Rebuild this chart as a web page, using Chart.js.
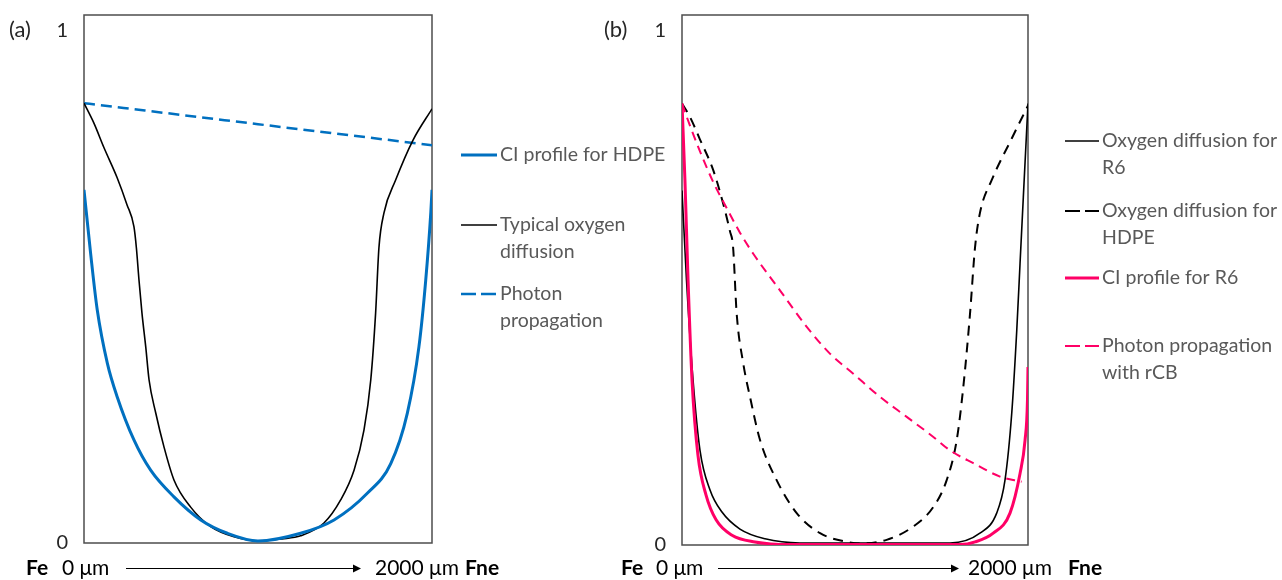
<!DOCTYPE html>
<html>
<head>
<meta charset="utf-8">
<script src="https://cdn.jsdelivr.net/npm/chart.js@4.4.1/dist/chart.umd.min.js"></script>
<style>
  body { margin: 0; background: #fff; }
  #wrap { position: relative; width: 1282px; height: 580px; }
  canvas { position: absolute; top: 0; }
  #chartA { left: 0; }
  #chartB { left: 600px; }
</style>
</head>
<body>
<div id="wrap">
  <canvas id="chartA" width="680" height="580"></canvas>
  <canvas id="chartB" width="682" height="580"></canvas>
</div>
<script>
// depth from the exposed face (µm) and relative values

// (a) HDPE
const ciHdpeX = [0, 38, 76, 134, 191, 287, 383, 517, 671, 824, 1000, 1245, 1437, 1628, 1763, 1858, 1925, 1964, 1993, 2000];
const ciHdpeY = [0.689, 0.565, 0.455, 0.351, 0.285, 0.201, 0.142, 0.090, 0.045, 0.019, 0.004, 0.019, 0.045, 0.097, 0.155, 0.253, 0.383, 0.513, 0.644, 0.689];

const oxyTypX = [0, 57, 115, 190, 247, 287, 301, 316, 333, 355, 374, 412, 460, 517, 613, 728, 862, 1000, 1138, 1245, 1379, 1475, 1552, 1609, 1648, 1676, 1695, 1724, 1791, 1891, 2000];
const oxyTypY = [0.858, 0.819, 0.771, 0.713, 0.660, 0.617, 0.576, 0.513, 0.449, 0.382, 0.318, 0.254, 0.187, 0.123, 0.070, 0.032, 0.012, 0.004, 0.008, 0.014, 0.039, 0.084, 0.142, 0.220, 0.318, 0.449, 0.576, 0.644, 0.708, 0.786, 0.847];

const photonX = [0, 1000, 2000];
const photonY = [0.858, 0.817, 0.776];

// (b) R6 vs HDPE
const oxyR6X = [0, 26, 64, 104, 162, 231, 335, 480, 682, 1549, 1722, 1819, 1867, 1906, 1935, 1954, 1973, 2000];
const oxyR6Y = [0.689, 0.515, 0.320, 0.184, 0.107, 0.064, 0.031, 0.012, 0.004, 0.004, 0.023, 0.062, 0.126, 0.256, 0.417, 0.547, 0.676, 0.858];

const oxyHdpeX = [0, 46, 104, 181, 239, 277, 295, 316, 354, 393, 451, 547, 663, 798, 952, 1029, 1183, 1337, 1453, 1530, 1588, 1626, 1665, 1694, 1722, 1790, 1906, 2000];
const oxyHdpeY = [0.858, 0.832, 0.788, 0.728, 0.662, 0.610, 0.580, 0.450, 0.353, 0.288, 0.204, 0.126, 0.062, 0.023, 0.006, 0.003, 0.010, 0.036, 0.074, 0.126, 0.204, 0.307, 0.450, 0.579, 0.645, 0.709, 0.790, 0.854];

const ciR6X = [0, 17, 35, 58, 92, 139, 197, 289, 422, 624, 1607, 1694, 1799, 1896, 1954, 1983, 1997, 2000];
const ciR6Y = [0.858, 0.709, 0.515, 0.320, 0.175, 0.097, 0.049, 0.019, 0.006, 0.001, 0.001, 0.006, 0.023, 0.062, 0.139, 0.204, 0.282, 0.346];

const photonCbX = [0, 46, 104, 181, 258, 335, 412, 566, 721, 855, 990, 1144, 1299, 1453, 1549, 1684, 1838, 1963];
const photonCbY = [0.858, 0.815, 0.765, 0.705, 0.655, 0.607, 0.566, 0.495, 0.424, 0.372, 0.333, 0.288, 0.249, 0.210, 0.184, 0.159, 0.133, 0.123];

// labels
const yTickValues = [0, 1];
const faceLabels = ["Fe", "Fne"];
const depthLabels = ["0 \u03bcm", "2000 \u03bcm"];
const legendA = [["CI profile for HDPE"], ["Typical oxygen", "diffusion"], ["Photon", "propagation"]];
const legendB = [["Oxygen diffusion for", "R6"], ["Oxygen diffusion for", "HDPE"], ["CI profile for R6"], ["Photon propagation", "with rCB"]];

const BLUE = "#0070C0";
const PINK = "#FF0066";
const FONT = "Lato, 'Open Sans', sans-serif";

function pts(xs, ys) {
    return xs.map((x, i) => ({ x: x, y: ys[i] }));
}

// box round the plot area
const frame = {
    id: "frame",
    beforeDatasetsDraw(chart) {
        const a = chart.chartArea;
        const ctx = chart.ctx;
        ctx.save();
        ctx.strokeStyle = "#4d4d4d";
        ctx.lineWidth = 1.5;
        ctx.strokeRect(a.left, a.top, a.right - a.left, a.bottom - a.top);
        ctx.restore();
    },
};

// legend on the right, with wrapped lines
const sideLegend = {
    id: "sideLegend",
    afterDraw(chart, args, o) {
        const ctx = chart.ctx;
        chart.data.datasets.forEach((ds, i) => {
            const y = o.rows[i];
            ctx.save();
            ctx.strokeStyle = ds.borderColor;
            ctx.lineWidth = ds.borderWidth;
            ctx.setLineDash(ds.borderDash ? [15, 5] : []);
            ctx.beginPath();
            ctx.moveTo(o.x0, y);
            ctx.lineTo(o.x1, y);
            ctx.stroke();
            ctx.setLineDash([]);
            ctx.fillStyle = "#595959";
            ctx.font = "19.5px " + FONT;
            ctx.textBaseline = "middle";
            ds.legendLines.forEach((t, k) => ctx.fillText(t, o.x1 + 3, y + k * 26.5));
            ctx.restore();
        });
    },
};

// panel tag and the Fe -> Fne depth line under the plot
const panelText = {
    id: "panelText",
    afterDraw(chart, args, o) {
        const ctx = chart.ctx;
        const y = 568;
        ctx.save();
        ctx.textBaseline = "middle";
        ctx.fillStyle = "#262626";
        ctx.font = "22px " + FONT;
        ctx.fillText(o.tag, o.tagX, 30);
        ctx.fillStyle = "#000";
        ctx.font = "bold 21px " + FONT;
        ctx.fillText(faceLabels[0], o.feX, y);
        ctx.fillText(faceLabels[1], o.fneX, y);
        ctx.font = "21px " + FONT;
        ctx.fillText(depthLabels[0], o.startX, y);
        ctx.fillText(depthLabels[1], o.endX, y);
        // arrow
        ctx.strokeStyle = "#000";
        ctx.lineWidth = 1;
        ctx.beginPath();
        ctx.moveTo(o.arrow[0], y + 0.5);
        ctx.lineTo(o.arrow[1] - 6, y + 0.5);
        ctx.stroke();
        ctx.beginPath();
        ctx.moveTo(o.arrow[1], y + 0.5);
        ctx.lineTo(o.arrow[1] - 8, y - 3.5);
        ctx.lineTo(o.arrow[1] - 8, y + 4.5);
        ctx.closePath();
        ctx.fill();
        ctx.restore();
    },
};

function makeOptions(axisWidth, pad, textOpts, legendOpts) {
    return {
        responsive: false,
        animation: false,
        devicePixelRatio: 1,
        layout: { padding: pad },
        elements: { point: { radius: 0 } },
        scales: {
            x: { type: "linear", min: 0, max: 2000, display: false },
            y: {
                type: "linear",
                min: 0,
                max: 1.03,
                afterBuildTicks: (scale) => {
                    scale.ticks = yTickValues.map((v) => ({ value: v }));
                },
                afterFit: (scale) => {
                    scale.width = axisWidth;
                    scale.paddingTop = 0;
                    scale.paddingBottom = 0;
                },
                grid: { display: false, drawTicks: false },
                border: { display: false },
                ticks: {
                    padding: 16,
                    color: "#262626",
                    font: { family: FONT, size: 20 },
                },
            },
        },
        plugins: {
            legend: { display: false },
            tooltip: { enabled: false },
            sideLegend: legendOpts,
            panelText: textOpts,
        },
    };
}

const lineDefaults = { fill: false, cubicInterpolationMode: "monotone", pointRadius: 0 };

new Chart(document.querySelector("#chartA"), {
    type: "line",
    data: {
        datasets: [
            { ...lineDefaults, label: legendA[0].join(" "), legendLines: legendA[0], data: pts(ciHdpeX, ciHdpeY), borderColor: BLUE, borderWidth: 3 },
            { ...lineDefaults, label: legendA[1].join(" "), legendLines: legendA[1], data: pts(oxyTypX, oxyTypY), borderColor: "#000", borderWidth: 1.6 },
            { ...lineDefaults, label: legendA[2].join(" "), legendLines: legendA[2], data: pts(photonX, photonY), borderColor: BLUE, borderWidth: 2.5, borderDash: [11, 6] },
        ],
    },
    options: makeOptions(
        84,
        { top: 15, bottom: 37, left: 0, right: 248 },
        { tag: "(a)", tagX: 9, feX: 26, startX: 62, arrow: [126, 361], endX: 375, fneX: 465 },
        { x0: 461, x1: 497, rows: [155, 225, 294] }
    ),
    plugins: [frame, sideLegend, panelText],
});

new Chart(document.querySelector("#chartB"), {
    type: "line",
    data: {
        datasets: [
            { ...lineDefaults, label: legendB[0].join(" "), legendLines: legendB[0], data: pts(oxyR6X, oxyR6Y), borderColor: "#000", borderWidth: 1.6, order: 2 },
            { ...lineDefaults, label: legendB[1].join(" "), legendLines: legendB[1], data: pts(oxyHdpeX, oxyHdpeY), borderColor: "#000", borderWidth: 2, borderDash: [10, 7], order: 3 },
            { ...lineDefaults, label: legendB[2].join(" "), legendLines: legendB[2], data: pts(ciR6X, ciR6Y), borderColor: PINK, borderWidth: 3, order: 1 },
            { ...lineDefaults, label: legendB[3].join(" "), legendLines: legendB[3], data: pts(photonCbX, photonCbY), borderColor: PINK, borderWidth: 2, borderDash: [9, 6], order: 0 },
        ],
    },
    options: makeOptions(
        82,
        { top: 15, bottom: 35, left: 0, right: 254 },
        { tag: "(b)", tagX: 4, feX: 21, startX: 56, arrow: [118, 359], endX: 368, fneX: 468 },
        { x0: 465, x1: 499, rows: [141, 211, 278, 346] }
    ),
    plugins: [frame, sideLegend, panelText],
});
</script>
</body>
</html>
